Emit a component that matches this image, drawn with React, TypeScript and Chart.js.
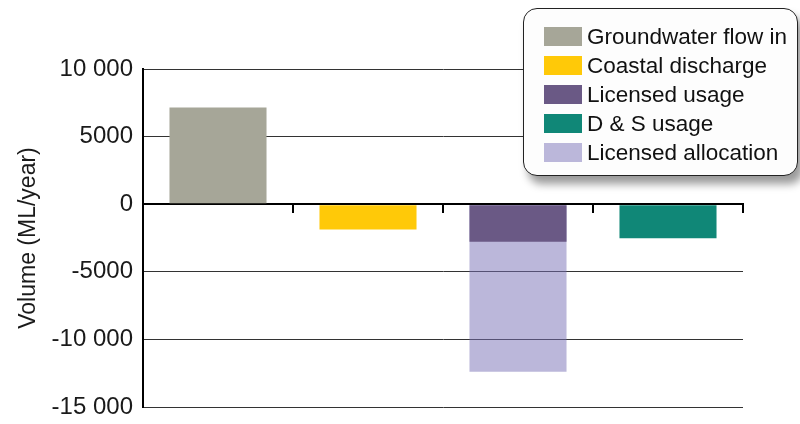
import React, { useEffect, useRef } from "react";
import { Chart, registerables } from "chart.js";

Chart.register(...registerables);

const categories = ["Groundwater flow in", "Coastal discharge", "Licensed", "D & S usage"];

const seriesNames = [
  "Groundwater flow in",
  "Coastal discharge",
  "Licensed usage",
  "D & S usage",
  "Licensed allocation",
];
const seriesColors = [
  "rgb(166,166,152)",
  "rgb(255,201,8)",
  "rgb(106,89,133)",
  "rgb(16,135,119)",
  "rgba(120,111,181,0.5)",
];
const legendSwatchColors = [
  "rgb(166,166,152)",
  "rgb(255,201,8)",
  "rgb(106,89,133)",
  "rgb(16,135,119)",
  "rgb(187,183,218)",
];

const groundwaterFlowIn = [7150, null, null, null];
const coastalDischarge = [null, -1880, null, null];
const licensedUsage = [null, null, -2770, null];
const dsUsage = [null, null, null, -2520];
const licensedAllocation = [null, null, -12400, null];

const yTicks = [10000, 5000, 0, -5000, -10000, -15000];
const yTickLabels = ["10 000", "5000", "0", "-5000", "-10 000", "-15 000"];

const yTitle = "Volume (ML/year)";

export default function App() {
  const ref = useRef<HTMLCanvasElement | null>(null);

  useEffect(() => {
    if (!ref.current) return;
    const seriesData = [groundwaterFlowIn, coastalDischarge, licensedUsage, dsUsage, licensedAllocation];
    const chart = new Chart(ref.current, {
      type: "bar",
      data: {
        labels: categories,
        datasets: seriesNames.map((name, i) => ({
          label: name,
          data: seriesData[i] as any,
          backgroundColor: seriesColors[i],
          borderWidth: 0,
          grouped: false,
          barPercentage: 0.647,
          categoryPercentage: 1,
        })),
      },
      options: {
        responsive: false,
        animation: false,
        layout: { padding: { top: 69, bottom: 17, right: 57, left: 0 } },
        plugins: {
          legend: { display: false },
          tooltip: { enabled: false },
          title: { display: false },
        },
        scales: {
          x: {
            position: { y: 0 } as any,
            z: 1,
            offset: true,
            ticks: { display: false },
            grid: {
              display: true,
              drawOnChartArea: false,
              drawTicks: true,
              tickLength: 8,
              lineWidth: 2,
              color: "#000",
              offset: true,
            },
            border: { display: true, color: "#000", width: 2 },
          },
          y: {
            min: -15000,
            max: 10000,
            afterBuildTicks: (scale: any) => {
              scale.ticks = yTicks.map((v) => ({ value: v }));
            },
            afterFit: (scale: any) => {
              scale.width = 143;
              scale.paddingTop = 0;
              scale.paddingBottom = 0;
            },
            ticks: {
              color: "#1a1a1a",
              padding: 10,
              font: { family: "'Liberation Sans', Arial, sans-serif", size: 24 },
              callback: (value: any) => {
                const idx = yTicks.indexOf(Number(value));
                return idx >= 0 ? yTickLabels[idx] : "";
              },
            },
            grid: {
              drawTicks: false,
              color: (ctx: any) => (ctx.tick && ctx.tick.value === 0 ? "#000" : "#333"),
              lineWidth: (ctx: any) => (ctx.tick && ctx.tick.value === 0 ? 2 : 1),
            },
            border: { display: true, color: "#000", width: 2 },
            title: {
              display: true,
              text: yTitle,
              color: "#1a1a1a",
              padding: { top: 15, bottom: 0 },
              font: { family: "'Liberation Sans', Arial, sans-serif", size: 23, weight: "normal" },
            },
          },
        },
      },
    });
    return () => chart.destroy();
  }, []);

  return (
    <div style={{ position: "absolute", left: 0, top: 0, width: 800, height: 424, overflow: "hidden", background: "#fff" }}>
      <canvas ref={ref} width={800} height={424} style={{ display: "block" }} />
      <div
        style={{
          position: "absolute",
          left: 523,
          top: 8,
          width: 275,
          height: 168,
          boxSizing: "border-box",
          border: "1.5px solid #222",
          borderRadius: 14,
          background: "#fdfdfd",
          boxShadow: "5px 8px 8px rgba(0,0,0,0.4)",
          fontFamily: "'Liberation Sans', Arial, sans-serif",
          fontSize: 22.5,
          color: "#111",
        }}
      >
        {seriesNames.map((name, i) => (
          <div
            key={name}
            style={{
              position: "absolute",
              left: 20,
              top: 18 + i * 29,
              height: 19,
              display: "flex",
              alignItems: "center",
              whiteSpace: "nowrap",
            }}
          >
            <span style={{ display: "inline-block", width: 38, height: 19, background: legendSwatchColors[i], marginRight: 5 }} />
            <span style={{ lineHeight: "19px" }}>{name}</span>
          </div>
        ))}
      </div>
    </div>
  );
}
